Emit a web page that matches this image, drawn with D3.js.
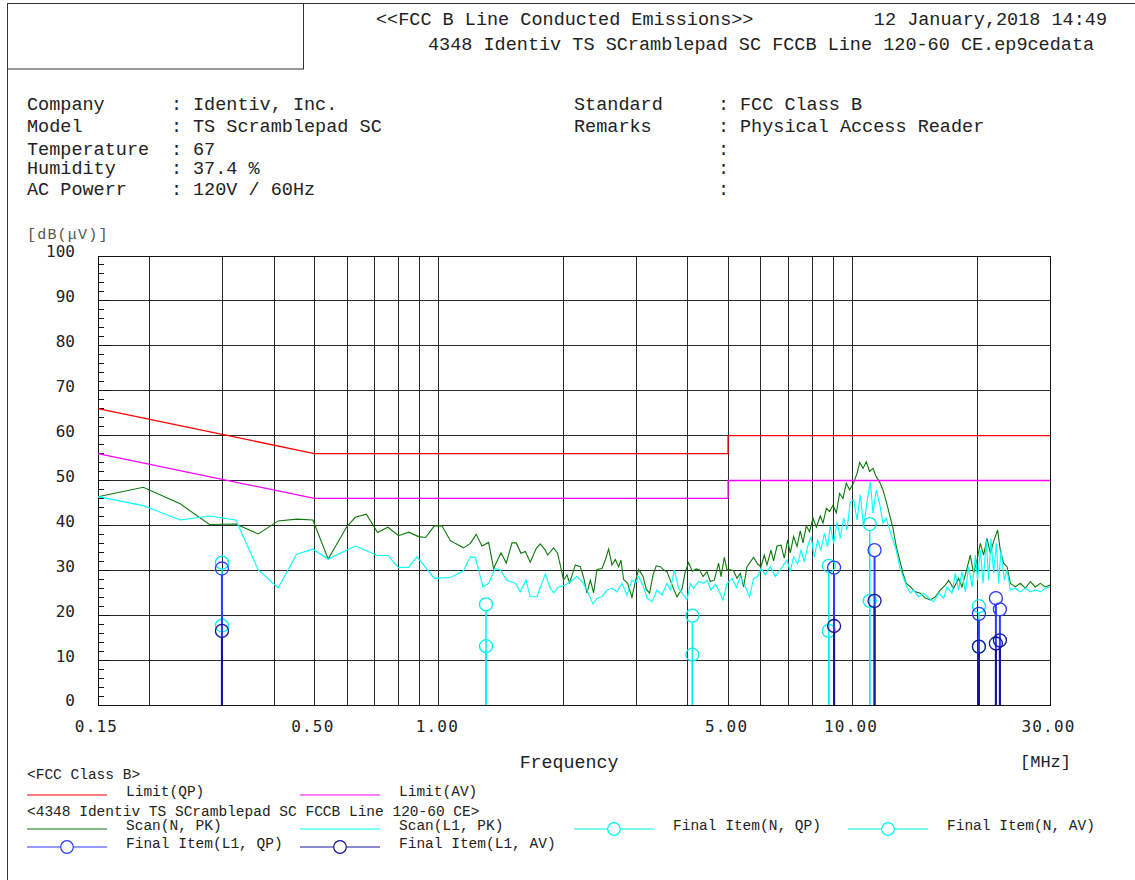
<!DOCTYPE html>
<html>
<head>
<meta charset="utf-8">
<script src="https://cdn.jsdelivr.net/npm/d3@7"></script>
<style>
  body { margin: 0; background: #fff; }
  svg text { font-family: "Liberation Mono", "DejaVu Sans Mono", monospace; fill: #222; }
</style>
</head>
<body>
<script>
// ---- data ----
var xTickValues = [0.15, 0.5, 1, 5, 10, 30];
var xTickLabels = ["0.15", "0.50", "1.00", "5.00", "10.00", "30.00"];
var xGridValues = [0.2, 0.3, 0.4, 0.5, 0.6, 0.7, 0.8, 0.9, 1, 2, 3, 4, 5, 6, 7, 8, 9, 10, 20];
var yTicks = [0, 10, 20, 30, 40, 50, 60, 70, 80, 90, 100];

var limitFreq = [0.15, 0.5, 5, 5, 30];
var limitQP = [66, 56, 56, 60, 60];
var limitAV = [56, 46, 46, 50, 50];

// Scan(N, PK) - green
var scanNFreq = [0.150,0.193,0.237,0.279,0.323,0.366,0.409,0.453,0.496,0.540,
  0.599,0.628,0.668,0.711,0.753,0.799,0.845,0.893,0.929,0.975,
  1.017,1.066,1.147,1.191,1.231,1.271,1.319,1.356,1.413,1.455,
  1.502,1.538,1.579,1.618,1.663,1.720,1.758,1.808,1.831,1.894,
  1.936,2.002,2.040,2.070,2.137,2.197,2.238,2.280,2.323,2.366,
  2.411,2.479,2.525,2.572,2.621,2.669,2.719,2.755,2.795,2.859,
  2.929,2.984,3.039,3.114,3.172,3.231,3.293,3.353,3.429,3.493,
  3.559,3.611,3.680,3.763,3.870,3.941,4.014,4.098,4.190,4.268,
  4.349,4.447,4.529,4.631,4.744,4.808,4.897,4.971,5.063,5.157,
  5.255,5.353,5.452,5.556,5.764,5.893,6.006,6.117,6.210,6.349,
  6.442,6.565,6.713,6.837,6.964,7.070,7.200,7.339,7.474,7.588,
  7.728,7.871,8.022,8.171,8.355,8.482,8.639,8.799,8.967,9.133,
  9.302,9.480,9.656,9.835,10.06,10.25,10.40,10.60,10.79,10.99,
  11.20,11.41,11.62,11.84,12.06,12.29,12.52,12.75,12.99,13.24,
  13.48,13.79,14.18,14.58,14.99,15.41,15.85,16.29,16.75,17.06,
  17.54,18.04,18.38,18.90,19.25,19.61,19.99,20.36,20.73,21.13,
  21.52,21.92,22.41,22.75,23.17,23.62,24.06,24.73,25.43,26.15,
  26.89,27.64,28.42,29.23,30.0];
var scanNLevel = [46.4,48.5,44.8,40.2,40.3,38.1,41.0,41.4,41.2,32.5,
  39.7,41.8,42.5,38.4,39.6,37.7,38.5,37.5,37.3,39.9,
  39.9,36.6,35.0,36.0,38.0,35.4,36.2,30.4,33.9,31.6,
  36.1,36.1,33.8,34.2,31.8,34.9,35.9,34.5,33.4,35.0,
  33.8,27.8,29.0,27.2,31.2,30.8,28.4,24.9,27.8,25.0,
  30.2,30.4,32.3,34.7,31.2,32.4,30.8,32.3,28.0,27.1,
  24.0,27.5,30.2,28.7,25.8,24.9,29.0,31.0,30.8,30.1,
  29.7,28.2,26.2,24.1,25.8,29.7,31.7,29.8,30.3,30.1,
  28.6,29.7,27.5,27.8,31.6,28.6,32.9,30.1,30.1,29.9,
  28.2,29.3,26.3,30.8,32.9,31.4,30.8,33.4,31.2,34.5,
  32.1,35.4,35.6,32.7,36.7,33.9,37.5,35.3,38.8,36.1,
  39.9,38.6,41.6,39.6,42.1,40.5,43.8,43.1,44.5,42.8,
  47.1,46.0,49.4,47.9,49.5,51.6,54.0,52.7,54.2,52.0,
  52.7,50.8,49.7,47.9,45.3,42.3,39.4,35.3,32.3,29.3,
  27.1,26.3,25.2,24.9,23.8,23.4,24.1,25.6,26.7,27.8,
  26.0,28.2,26.3,30.4,33.4,29.3,32.3,36.0,33.4,37.1,
  33.8,36.4,39.0,34.5,31.6,30.8,27.1,26.3,27.1,26.0,
  27.5,26.3,27.1,26.3,26.7];

// Scan(L1, PK) - cyan
var scanL1Freq = [0.150,0.193,0.237,0.279,0.323,0.366,0.409,0.453,0.496,0.540,
  0.628,0.711,0.753,0.799,0.845,0.885,0.918,0.975,1.066,1.147,
  1.191,1.225,1.278,1.319,1.369,1.407,1.461,1.530,1.573,1.624,
  1.663,1.726,1.808,1.859,1.894,1.947,2.021,2.078,2.157,2.218,
  2.280,2.358,2.411,2.479,2.549,2.621,2.695,2.771,2.849,2.929,
  2.984,3.039,3.125,3.184,3.274,3.367,3.462,3.559,3.626,3.707,
  3.797,3.904,3.978,4.052,4.127,4.244,4.364,4.447,4.547,4.657,
  4.744,4.861,4.971,5.111,5.235,5.353,5.504,5.637,5.764,5.893,
  6.006,6.152,6.325,6.504,6.661,6.811,6.941,7.070,7.200,7.363,
  7.504,7.643,7.785,7.933,8.080,8.230,8.387,8.543,8.702,8.833,
  8.997,9.168,9.339,9.512,9.694,9.874,10.06,10.25,10.44,10.63,
  10.84,11.04,11.20,11.41,11.62,11.84,12.06,12.29,12.52,12.75,
  12.99,13.24,13.54,13.79,14.04,14.44,14.85,15.27,15.70,16.14,
  16.60,16.91,17.39,17.71,18.04,18.38,18.73,19.07,19.44,19.80,
  20.05,20.36,20.67,21.05,21.32,21.60,21.92,22.25,22.54,22.84,
  23.26,23.62,24.06,24.73,25.43,26.15,26.89,27.64,28.42,29.23,
  30.0];
var scanL1Level = [46.4,44.4,41.2,42.1,41.2,30.1,26.1,33.6,34.7,32.5,
  35.4,33.3,33.3,30.6,30.7,33.0,31.2,28.2,28.4,29.9,
  33.0,32.9,26.3,27.1,30.4,30.1,27.8,27.1,25.2,27.8,
  24.1,24.1,29.2,26.0,25.0,26.3,26.7,27.5,28.6,27.5,
  25.6,22.5,23.8,24.1,25.6,26.0,25.2,27.1,24.5,27.8,
  27.1,28.6,26.3,23.8,23.0,25.6,24.5,27.1,25.6,30.1,
  26.0,24.5,23.4,27.1,26.0,27.5,27.1,27.8,25.6,26.9,
  25.6,23.4,27.1,28.2,26.2,28.6,26.3,24.1,28.2,28.6,
  30.4,29.0,30.8,28.6,29.9,31.2,32.3,29.7,33.0,31.4,
  34.5,31.9,35.3,37.5,33.0,36.7,34.5,38.2,35.3,39.9,
  36.0,40.8,37.1,41.6,39.0,45.3,45.7,41.2,46.8,39.7,
  45.3,49.7,42.7,47.9,44.9,40.5,41.6,39.0,36.7,34.5,
  30.8,28.6,26.3,24.9,25.6,24.1,24.9,23.8,23.0,24.9,
  23.8,26.3,24.9,29.3,25.6,29.7,25.2,30.8,26.3,33.4,
  27.8,34.5,27.1,36.7,27.8,37.1,29.3,36.0,27.1,34.5,
  27.8,30.1,25.6,26.0,25.2,26.0,25.2,25.6,25.2,26.0,
  26.3];

// final items
var finalNFreq = [0.299, 1.30, 4.10, 8.76, 11.0, 20.2];
var finalNQP = [31.7, 22.4, 19.9, 31.0, 40.3, 22.0];
var finalNAV = [17.7, 13.1, 11.2, 16.5, 23.2, 13.0];
var finalL1Freq = [0.299, 9.02, 11.3, 20.2, 22.2, 22.7];
var finalL1QP = [30.4, 30.6, 34.5, 20.3, 23.8, 21.3];
var finalL1AV = [16.5, 17.6, 23.2, 13.0, 13.7, 14.4];

// ---- layout ----
var width = 1135;
var height = 880;
var plotLeft = 98, plotRight = 1050, plotTop = 256, plotBottom = 705;

var colQP = "#ff0000", colAV = "#ff00ff";
var colScanN = "#0b7a0b", colScanL1 = "#00ffff";
var colL1QP = "#2b3bff", colL1AV = "#14149a", colN = "#00f0f0";

var svg = d3.select("body")
  .append("svg")
  .attr("width", width)
  .attr("height", height);

var x = d3.scaleLog().domain([0.15, 30]).range([plotLeft, plotRight]);
var y = d3.scaleLinear().domain([0, 100]).range([plotBottom, plotTop]);

// page frame and empty header box
svg.append("path")
  .attr("d", "M7.5,880 V3.5 H1135")
  .attr("fill", "none")
  .attr("stroke", "#333");
svg.append("rect")
  .attr("x", 7.5).attr("y", 3.5)
  .attr("width", 296).attr("height", 65.5)
  .attr("fill", "none")
  .attr("stroke", "#333");

// header text
var hdr = svg.append("g").style("font-size", "18.5px");
hdr.append("text").attr("x", 376).attr("y", 25).text("<<FCC B Line Conducted Emissions>>");
hdr.append("text").attr("x", 428).attr("y", 50).text("4348 Identiv TS SCramblepad SC FCCB Line 120-60 CE.ep9cedata");
hdr.append("text").attr("x", 1107).attr("y", 25).attr("text-anchor", "end").text("12 January,2018 14:49");

var infoLeft = [["Company", "Identiv, Inc.", 110], ["Model", "TS Scramblepad SC", 132],
  ["Temperature", "67", 155], ["Humidity", "37.4 %", 174], ["AC Powerr", "120V / 60Hz", 195]];
var infoRight = [["Standard", "FCC Class B", 110], ["Remarks", "Physical Access Reader", 132],
  ["", "", 155], ["", "", 174], ["", "", 195]];

function infoBlock(rows, x0) {
  rows.forEach(function(r) {
    hdr.append("text").attr("x", x0).attr("y", r[2]).text(r[0]);
    hdr.append("text").attr("x", x0 + 144).attr("y", r[2]).text(":");
    hdr.append("text").attr("x", x0 + 166).attr("y", r[2]).text(r[1]);
  });
}
infoBlock(infoLeft, 27);
infoBlock(infoRight, 574);

// ---- grid ----
var grid = svg.append("g").attr("shape-rendering", "crispEdges");
grid.selectAll(".hg")
  .data(yTicks)
  .enter()
  .append("line")
    .attr("x1", plotLeft).attr("x2", plotRight)
    .attr("y1", function(d) { return y(d); })
    .attr("y2", function(d) { return y(d); })
    .attr("stroke", "#2a2a2a");
grid.selectAll(".vg")
  .data(xGridValues)
  .enter()
  .append("line")
    .attr("x1", function(d) { return x(d); })
    .attr("x2", function(d) { return x(d); })
    .attr("y1", plotTop).attr("y2", plotBottom)
    .attr("stroke", "#2a2a2a");

// minor ticks on the y axis
grid.selectAll(".mt")
  .data(d3.range(0, 101, 2))
  .enter()
  .append("line")
    .attr("x1", plotLeft)
    .attr("x2", function(d) { return d % 10 === 0 ? plotLeft + 12 : plotLeft + 6; })
    .attr("y1", function(d) { return y(d); })
    .attr("y2", function(d) { return y(d); })
    .attr("stroke", "#111");

grid.append("rect")
  .attr("x", plotLeft).attr("y", plotTop)
  .attr("width", plotRight - plotLeft).attr("height", plotBottom - plotTop)
  .attr("fill", "none")
  .attr("stroke", "#111");

// ---- axes ----
var yAxis = svg.append("g")
  .attr("transform", "translate(" + plotLeft + ",0)")
  .call(d3.axisLeft(y).tickValues(yTicks).tickSize(0).tickPadding(23));
yAxis.select(".domain").remove();
yAxis.selectAll("text")
  .attr("dy", "0.06em")
  .style("font-family", "'DejaVu Sans Mono', monospace")
  .style("font-size", "16px")
  .style("fill", "#222");

var xAxis = svg.append("g")
  .attr("transform", "translate(0," + plotBottom + ")")
  .call(d3.axisBottom(x).tickValues(xTickValues)
    .tickFormat(function(d, i) { return xTickLabels[i]; })
    .tickSize(0));
xAxis.select(".domain").remove();
xAxis.selectAll("text")
  .attr("y", 27).attr("dy", 0).attr("dx", -2)
  .style("font-family", "'DejaVu Sans Mono', monospace")
  .style("font-size", "16px")
  .style("letter-spacing", "1.2px")
  .style("fill", "#222");

svg.append("text")
  .attr("x", 27).attr("y", 239)
  .style("font-size", "15px").style("fill", "#555")
  .style("letter-spacing", "1.2px")
  .text("[dB(\u03bcV)]");
svg.append("text")
  .attr("x", 569).attr("y", 768)
  .attr("text-anchor", "middle")
  .style("font-size", "18.3px")
  .text("Frequency");
svg.append("text")
  .attr("x", 1020).attr("y", 767)
  .style("font-size", "17px")
  .text("[MHz]");

// ---- traces ----
var line = d3.line()
  .x(function(d) { return x(d[0]); })
  .y(function(d) { return y(d[1]); });

var plot = svg.append("g");

plot.append("path")
  .datum(d3.zip(scanNFreq, scanNLevel))
  .attr("d", line)
  .attr("fill", "none")
  .attr("stroke", colScanN)
  .attr("stroke-width", 1.1);

plot.append("path")
  .datum(d3.zip(scanL1Freq, scanL1Level))
  .attr("d", line)
  .attr("fill", "none")
  .attr("stroke", colScanL1)
  .attr("stroke-width", 1.1);

plot.append("path")
  .datum(d3.zip(limitFreq, limitQP))
  .attr("d", line)
  .attr("fill", "none")
  .attr("stroke", colQP)
  .attr("stroke-width", 1.3);

plot.append("path")
  .datum(d3.zip(limitFreq, limitAV))
  .attr("d", line)
  .attr("fill", "none")
  .attr("stroke", colAV)
  .attr("stroke-width", 1.3);

// final items: stem from the floor plus a circle
function finals(freqs, levels, color, sw) {
  var g = plot.append("g");
  var pts = d3.zip(freqs, levels);
  g.selectAll("line")
    .data(pts)
    .enter()
    .append("line")
      .attr("x1", function(d) { return x(d[0]); })
      .attr("x2", function(d) { return x(d[0]); })
      .attr("y1", y(0))
      .attr("y2", function(d) { return y(d[1]) + 6.5; })
      .attr("stroke", color)
      .attr("stroke-width", sw);
  g.selectAll("circle")
    .data(pts)
    .enter()
    .append("circle")
      .attr("cx", function(d) { return x(d[0]); })
      .attr("cy", function(d) { return y(d[1]); })
      .attr("r", 6.5)
      .attr("fill", "none")
      .attr("stroke", color)
      .attr("stroke-width", 1.3);
}
finals(finalNFreq, finalNQP, colN, 1.5);
finals(finalNFreq, finalNAV, colN, 1.5);
finals(finalL1Freq, finalL1QP, colL1QP, 2);
finals(finalL1Freq, finalL1AV, colL1AV, 2);

// ---- legend ----
var leg = svg.append("g").style("font-size", "14.5px");
leg.append("text").attr("x", 27).attr("y", 779).text("<FCC Class B>");
leg.append("text").attr("x", 27).attr("y", 816).text("<4348 Identiv TS SCramblepad SC FCCB Line 120-60 CE>");

var legendItems = [
  {x: 27, y: 795, color: colQP, label: "Limit(QP)", marker: false},
  {x: 300, y: 795, color: colAV, label: "Limit(AV)", marker: false},
  {x: 27, y: 829, color: colScanN, label: "Scan(N, PK)", marker: false},
  {x: 300, y: 829, color: colScanL1, label: "Scan(L1, PK)", marker: false},
  {x: 574, y: 829, color: colN, label: "Final Item(N, QP)", marker: true},
  {x: 848, y: 829, color: colN, label: "Final Item(N, AV)", marker: true},
  {x: 27, y: 847, color: colL1QP, label: "Final Item(L1, QP)", marker: true},
  {x: 300, y: 847, color: colL1AV, label: "Final Item(L1, AV)", marker: true}
];
legendItems.forEach(function(it) {
  leg.append("line")
    .attr("x1", it.x).attr("x2", it.x + 80)
    .attr("y1", it.y).attr("y2", it.y)
    .attr("stroke", it.color)
    .attr("stroke-width", 1.2);
  if (it.marker) {
    leg.append("circle")
      .attr("cx", it.x + 40).attr("cy", it.y)
      .attr("r", 6.3)
      .attr("fill", "#fff")
      .attr("stroke", it.color)
      .attr("stroke-width", 1.2);
  }
  leg.append("text")
    .attr("x", it.x + 99).attr("y", it.y + 1)
    .text(it.label);
});
</script>
</body>
</html>
